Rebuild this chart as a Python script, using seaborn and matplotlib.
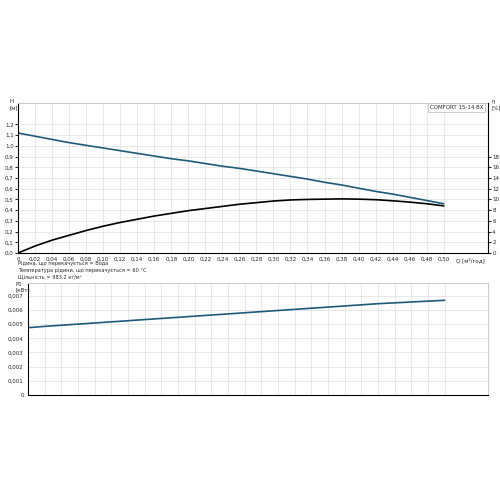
import matplotlib
matplotlib.use("Agg")
import matplotlib.pyplot as plt
import seaborn as sns
import pandas as pd
from matplotlib.ticker import FuncFormatter

sns.set_style("whitegrid")
plt.rcParams['font.family'] = ['DejaVu Sans']

q = [0, 0.02, 0.04, 0.06, 0.08, 0.10, 0.12, 0.14, 0.16, 0.18, 0.20, 0.22, 0.24, 0.26,
     0.28, 0.30, 0.32, 0.34, 0.36, 0.38, 0.40, 0.42, 0.44, 0.46, 0.48, 0.50]
head = [1.12, 1.09, 1.06, 1.03, 1.005, 0.98, 0.955, 0.93, 0.905, 0.88, 0.86, 0.835, 0.81, 0.79,
        0.765, 0.74, 0.715, 0.69, 0.66, 0.635, 0.605, 0.575, 0.55, 0.52, 0.49, 0.46]
eta = [0, 1.3, 2.4, 3.3, 4.2, 5.0, 5.7, 6.3, 6.9, 7.4, 7.9, 8.3, 8.7, 9.1,
       9.4, 9.7, 9.9, 10.0, 10.05, 10.1, 10.05, 9.95, 9.75, 9.5, 9.2, 8.8]
p1 = [0.00475, 0.00484, 0.00492, 0.005, 0.00508, 0.00516, 0.00524, 0.00532, 0.0054, 0.00548,
      0.00556, 0.00564, 0.00572, 0.0058, 0.00588, 0.00596, 0.00604, 0.00612, 0.0062, 0.00628,
      0.00636, 0.00644, 0.0065, 0.00656, 0.00662, 0.00668]

df = pd.DataFrame({"q": q, "head": head, "eta": eta, "p1": p1})
comma = lambda fmt: FuncFormatter(lambda v, p: (fmt % v).replace(".", ","))

fig = plt.figure(figsize=(5, 5), dpi=100)
ax = fig.add_axes([0.036, 0.494, 0.94, 0.30])
ax2 = ax.twinx()
bx = fig.add_axes([0.056, 0.21, 0.92, 0.224])

sns.lineplot(data=df, x="q", y="head", ax=ax, color="#1f5a7a", lw=1.2)
sns.lineplot(data=df, x="q", y="eta", ax=ax2, color="black", lw=1.2)
sns.lineplot(data=df, x="q", y="p1", ax=bx, color="#1f5a7a", lw=1.2)

xt = [i * 0.02 for i in range(26)]
for a in (ax, bx):
    a.set_xlim(0, 0.552)
    a.set_xticks(xt)
    a.grid(color="#e4e4e4", lw=0.6)
    for s in a.spines.values():
        s.set_color("#cccccc")
    a.spines["left"].set_color("black")
    a.spines["bottom"].set_color("black")
    a.tick_params(labelsize=4, length=2, pad=1)
    a.set_xlabel("")
    a.set_ylabel("")
ax.xaxis.set_major_formatter(FuncFormatter(lambda v, p: "0" if v == 0 else ("%.2f" % v).replace(".", ",")))
bx.set_xticklabels([])
ax.set_ylim(0, 1.4)
ax.set_yticks([i / 10 for i in range(13)])
ax.yaxis.set_major_formatter(comma("%.1f"))
ax2.set_ylim(0, 28)
ax2.set_yticks(range(0, 20, 2))
ax2.grid(False)
ax2.tick_params(labelsize=4, length=2, pad=1)
ax2.set_ylabel("")
for s in ax2.spines.values():
    s.set_visible(False)
ax2.spines["right"].set_visible(True)
ax2.spines["right"].set_color("black")
bx.set_ylim(0, 0.0079)
bx.set_yticks([i / 1000 for i in range(8)])
bx.yaxis.set_major_formatter(FuncFormatter(lambda v, p: "0" if v == 0 else ("%.3f" % v).replace(".", ",")))

fig.text(0.02, 0.78, "H\n[м]", fontsize=4, va="bottom")
fig.text(0.982, 0.78, "η\n[%]", fontsize=4, va="bottom")
fig.text(0.94, 0.485, "Q [м³/год]", fontsize=4, ha="center", va="top")
fig.text(0.03, 0.415, "P1\n[кВт]", fontsize=4, va="bottom")
ax.text(0.99, 0.985, "COMFORT 15-14 BX", transform=ax.transAxes, fontsize=4, ha="right", va="top",
        bbox=dict(fc="white", ec="#bbbbbb", lw=0.5, pad=1.5))
fig.text(0.036, 0.478, "Рідина, що перекачується = Вода\nТемпература рідини, що перекачується = 60 °C\nЩільність = 983.2 кг/м³",
         fontsize=3.6, va="top", linespacing=1.4)

fig.savefig("out.png", dpi=100, facecolor="white")
